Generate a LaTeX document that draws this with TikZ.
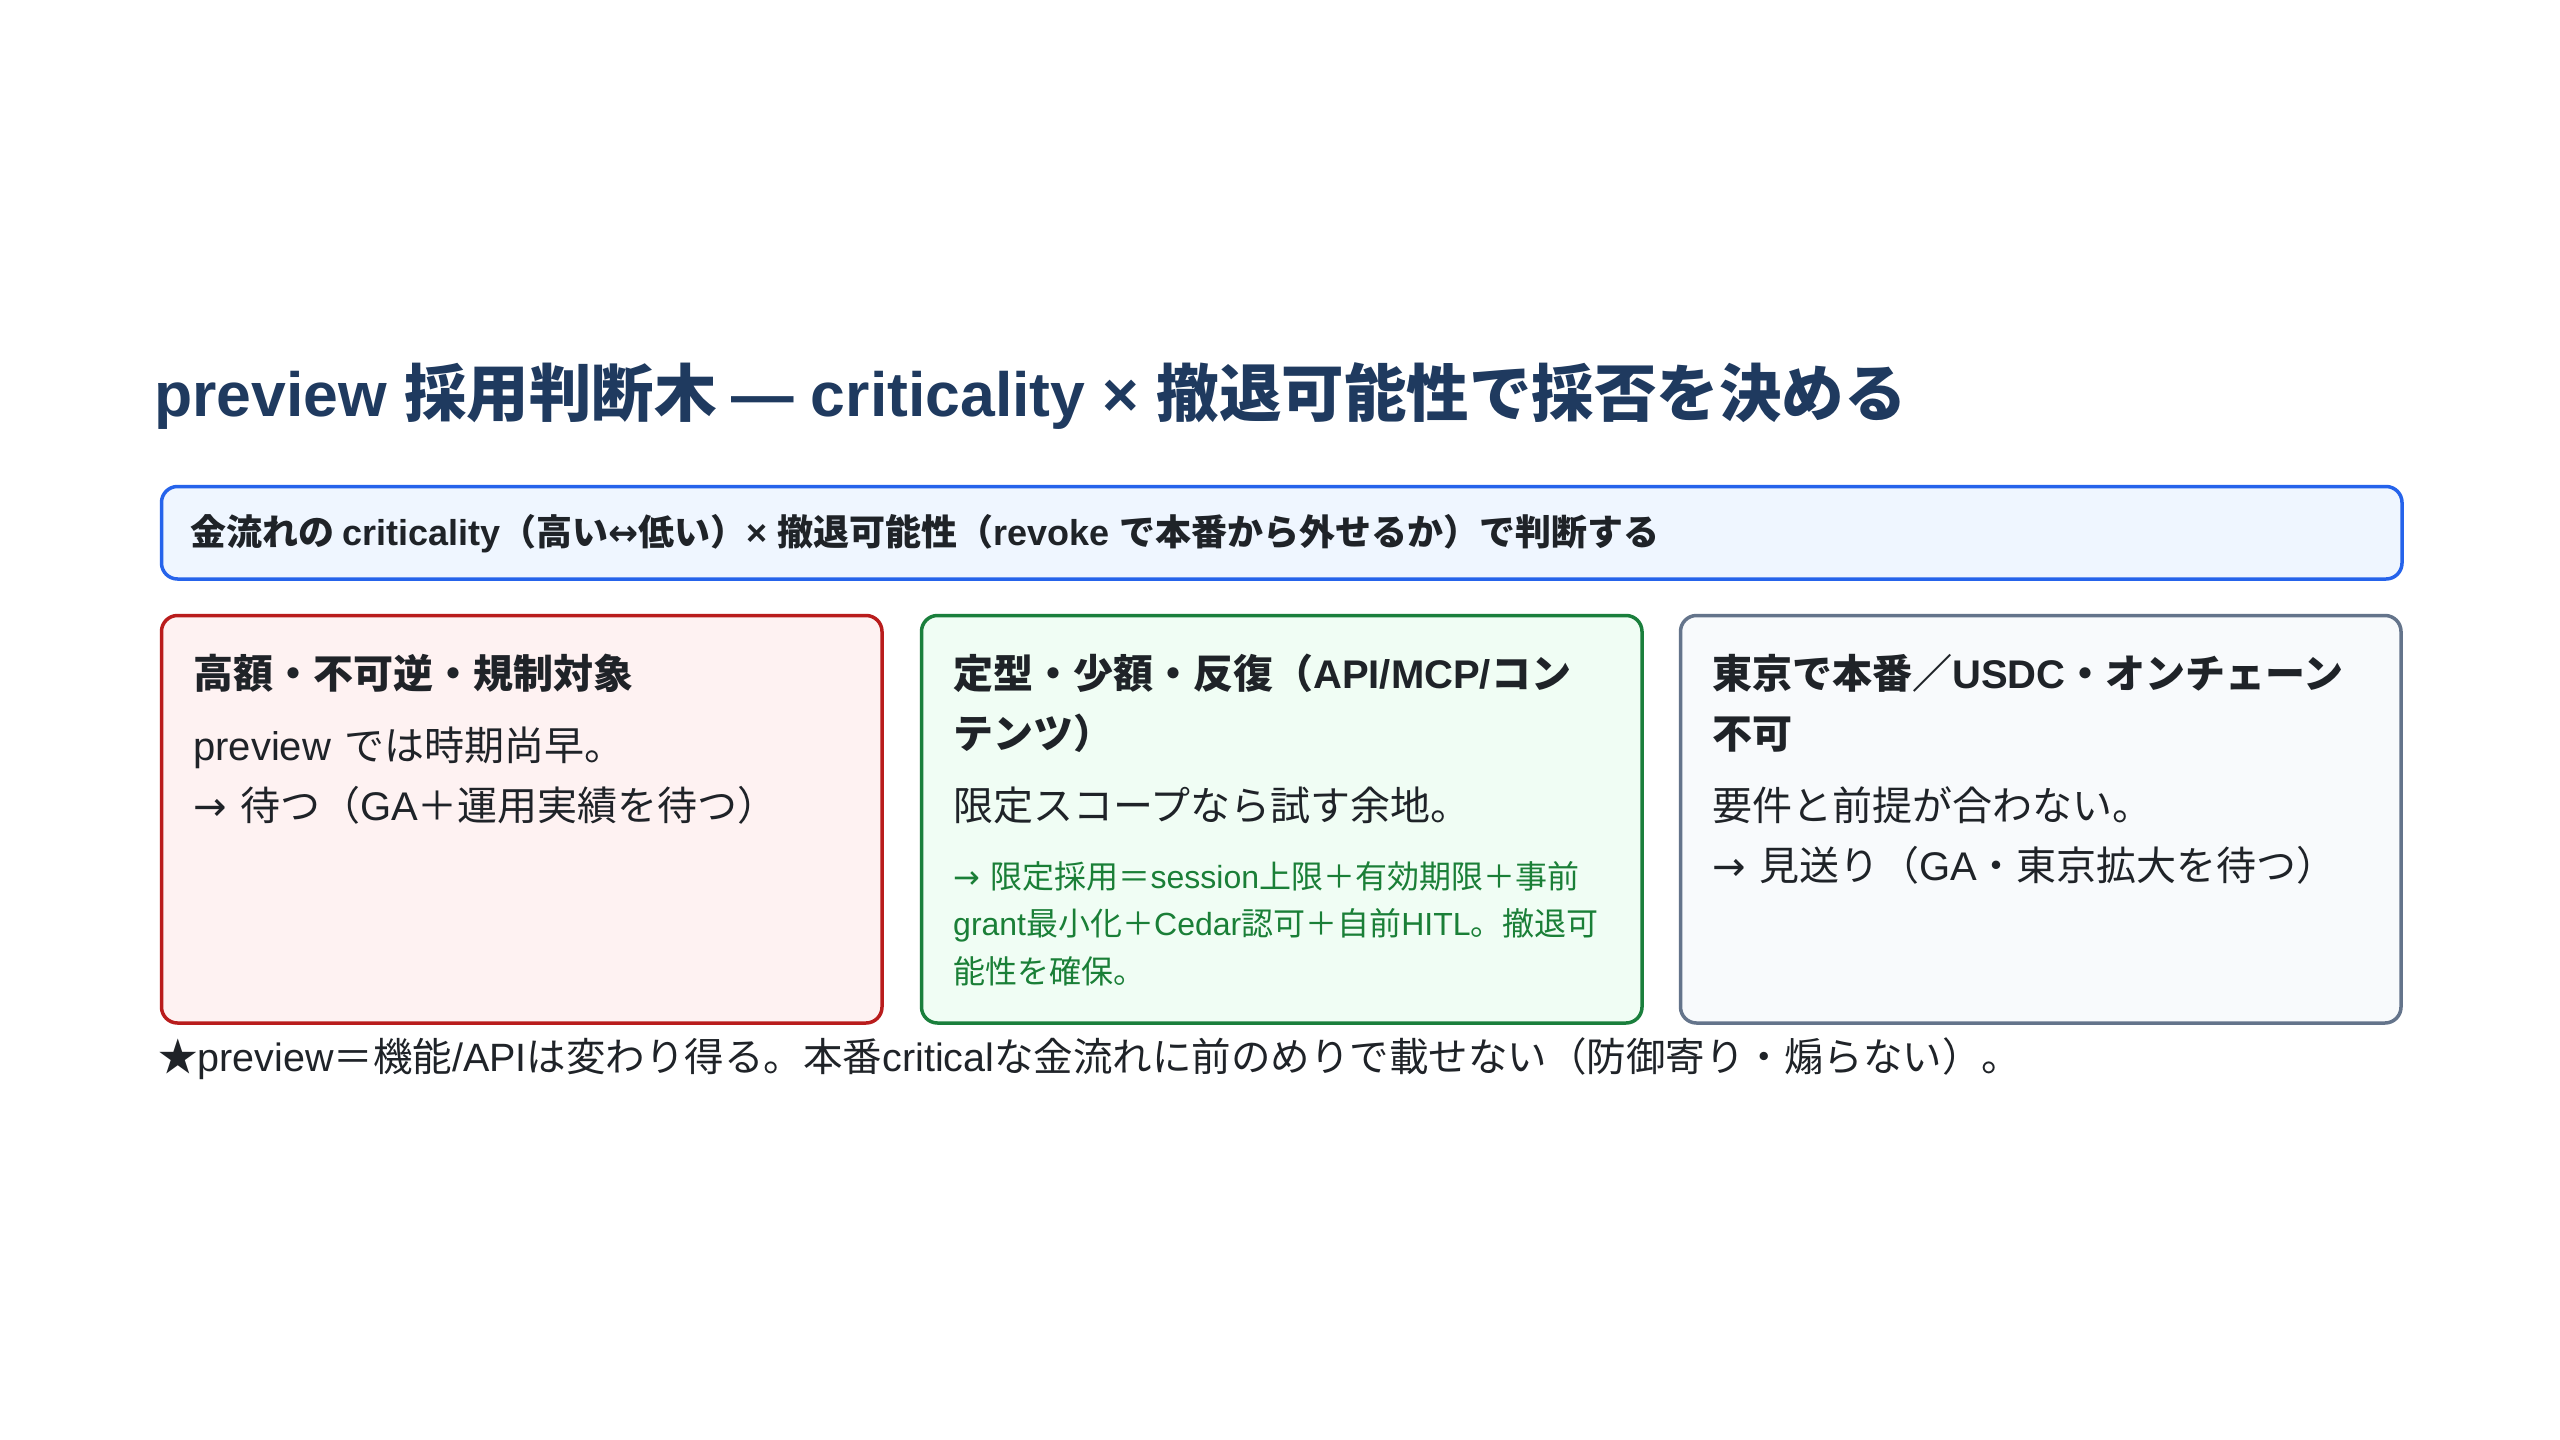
\documentclass[tikz,border=0pt]{standalone}
\usepackage{fontspec}
\setmainfont{Liberation Sans}
\newfontfamily\jpfont{Noto Sans CJK JP}
\newfontfamily\lafont{Liberation Sans}
\newfontfamily\arfont{DejaVu Sans}
\XeTeXinterchartokenstate=1
\newXeTeXintercharclass\JPclass
\newXeTeXintercharclass\ARclass
\newcount\jpcc
\def\setcls#1#2#3{\jpcc=#1 \loop\XeTeXcharclass\jpcc=#3 \ifnum\jpcc<#2 \advance\jpcc by 1 \repeat}
\setcls{"3000}{"30FF}\JPclass
\setcls{"3400}{"4DBF}\JPclass
\setcls{"4E00}{"9FFF}\JPclass
\setcls{"FF00}{"FFEF}\JPclass
\XeTeXcharclass"2605=\JPclass
\setcls{"2190}{"21FF}\ARclass
\XeTeXinterchartoks 0 \JPclass = {\jpfont}
\XeTeXinterchartoks 4095 \JPclass = {\jpfont}
\XeTeXinterchartoks \ARclass \JPclass = {\jpfont}
\XeTeXinterchartoks \JPclass 0 = {\lafont}
\XeTeXinterchartoks 4095 0 = {\lafont}
\XeTeXinterchartoks \ARclass 0 = {\lafont}
\XeTeXinterchartoks 0 \ARclass = {\arfont}
\XeTeXinterchartoks 4095 \ARclass = {\arfont}
\XeTeXinterchartoks \JPclass \ARclass = {\arfont}
\definecolor{titleblue}{HTML}{1F3A5F}
\definecolor{ink}{HTML}{1F2328}
\definecolor{bannerline}{HTML}{2563EB}
\definecolor{bannerfill}{HTML}{EFF6FF}
\definecolor{redline}{HTML}{B91C1C}
\definecolor{redfill}{HTML}{FEF2F2}
\definecolor{greenline}{HTML}{1A7F3C}
\definecolor{greenfill}{HTML}{F0FDF4}
\definecolor{grayline}{HTML}{64748B}
\definecolor{grayfill}{HTML}{F8FAFC}
\definecolor{detailgreen}{HTML}{1A7F37}
\begin{document}
\begin{tikzpicture}[x=1pt,y=-1pt,
  card/.style={draw, line width=3.5pt, rounded corners=16pt, minimum width=720.5pt, minimum height=407.5pt, anchor=north west, inner sep=0pt},
  headtext/.style={anchor=base west, inner sep=0pt, text width=690pt, align=left, font=\bfseries\fontsize{40}{60}\selectfont, text=ink},
  bodytext/.style={anchor=base west, inner sep=0pt, text width=690pt, align=left, font=\fontsize{40}{60}\selectfont, text=ink},
  detailtext/.style={anchor=base west, inner sep=0pt, text width=690pt, align=left, font=\fontsize{32}{47.5}\selectfont, text=detailgreen},
]
\useasboundingbox[fill=white] (0,0) rectangle (2560,1440);
% title
\node[anchor=base west, inner sep=0pt, font=\bfseries\fontsize{62.5}{70}\selectfont, text=titleblue] (title) at (154,416)
  {preview 採用判断木 — criticality × 撤退可能性で採否を決める};
% banner
\node[draw=bannerline, fill=bannerfill, line width=3.5pt, rounded corners=16pt, minimum width=2240.5pt, minimum height=92.5pt, anchor=north west, inner sep=0pt] (banner) at (159.75,484.75) {};
\node[anchor=base west, inner sep=0pt, font=\bfseries\fontsize{36}{40}\selectfont, text=ink] (bannertext) at (190,545)
  {金流れの criticality（高い↔低い）× 撤退可能性（revoke で本番から外せるか）で判断する};
% cards
\node[card, draw=redline, fill=redfill] (red) at (159.75,613.75) {};
\node[card, draw=greenline, fill=greenfill] (green) at (919.75,613.75) {};
\node[card, draw=grayline, fill=grayfill] (gray) at (1678.75,613.75) {};
% red card text
\node[headtext] (redhead) at (193,688) {高額・不可逆・規制対象};
\node[bodytext] (redbody) at (193,760) {preview では時期尚早。\\→ 待つ（GA＋運用実績を待つ）};
% green card text
\node[headtext] (greenhead) at (953,688) {定型・少額・反復（API/MCP/コン\\テンツ）};
\node[bodytext] (greenbody) at (953,820) {限定スコープなら試す余地。};
\node[detailtext] (greendetail) at (953,888) {→ 限定採用＝session上限＋有効期限＋事前\\grant最小化＋Cedar認可＋自前HITL。撤退可\\能性を確保。};
% gray card text
\node[headtext] (grayhead) at (1712,688) {東京で本番／USDC・オンチェーン\\不可};
\node[bodytext] (graybody) at (1712,820) {要件と前提が合わない。\\→ 見送り（GA・東京拡大を待つ）};
% footer
\node[anchor=base west, inner sep=0pt, font=\fontsize{39.5}{44}\selectfont, text=ink] (footer) at (158,1071)
  {★preview＝機能/APIは変わり得る。本番criticalな金流れに前のめりで載せない（防御寄り・煽らない）。};
\end{tikzpicture}
\end{document}
